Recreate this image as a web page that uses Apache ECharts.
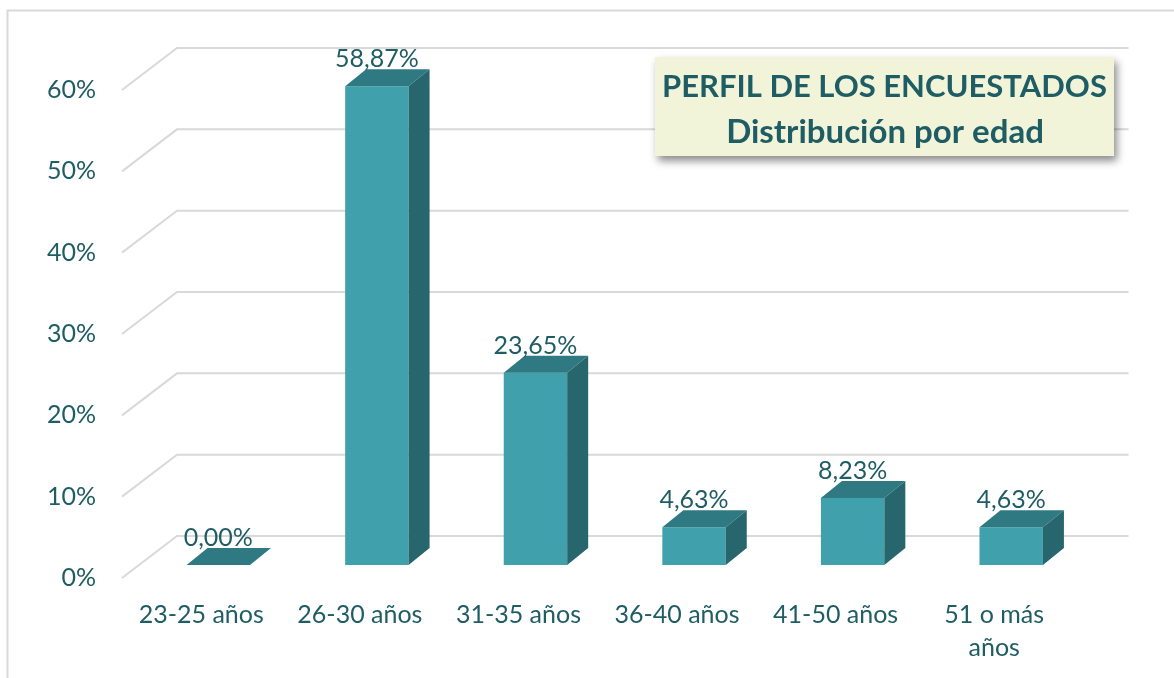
<!DOCTYPE html>
<html><head><meta charset="utf-8">
<script src="https://cdn.jsdelivr.net/npm/echarts@6/dist/echarts.min.js"></script>
<style>html,body{margin:0;padding:0;background:#fff}#c{width:1174px;height:678px}</style>
</head><body><div id="c"></div>
<script>
const categories = ['23-25 años', '26-30 años', '31-35 años', '36-40 años', '41-50 años', '51 o más\naños'];
const values = [0.00, 58.87, 23.65, 4.63, 8.23, 4.63];
const yTicks = [0, 10, 20, 30, 40, 50, 60];
const titleLines = ['PERFIL DE LOS ENCUESTADOS', 'Distribución por edad'];

const TXT = '#1f5d64';
const FONT = 'Lato';
const WALL_DX = 55, WALL_DY = -42;
const FRONT_DX = 17, FRONT_DY = -13;
const DEPTH_DX = 21, DEPTH_DY = -17;

function fmt(v) { return v.toFixed(2).replace('.', ',') + '%'; }

const chart = echarts.init(document.getElementById('c'));
chart.setOption({
  animation: false,
  grid: { left: 122, right: 100.5, top: 90, bottom: 100, containLabel: false },
  xAxis: {
    type: 'category', data: categories,
    axisLine: { show: false }, axisTick: { show: false },
    axisLabel: { color: TXT, fontFamily: FONT, fontSize: 25, margin: 20, lineHeight: 33, interval: 0 }
  },
  yAxis: {
    type: 'value', min: 0, max: 60, interval: 10,
    axisLine: { show: false }, axisTick: { show: false }, splitLine: { show: false },
    axisLabel: { color: TXT, fontFamily: FONT, fontSize: 25, margin: 26, formatter: '{value}%' }
  },
  graphic: [
    { type: 'rect', shape: { x: 7.5, y: 10.5, width: 1200, height: 700 }, style: { fill: 'none', stroke: '#d9d9d9', lineWidth: 2 }, z: -10 },
    { type: 'rect', z: 100, zlevel: 1, shape: { x: 655, y: 57, width: 459, height: 99 },
      style: { fill: '#f2f4da', shadowBlur: 8, shadowOffsetX: 3, shadowOffsetY: 5, shadowColor: 'rgba(0,0,0,0.45)' } },
    { type: 'text', z: 101, zlevel: 1, x: 884.5, y: 87, style: { text: titleLines[0], fill: TXT, font: 'bold 31px ' + FONT, textAlign: 'center', textVerticalAlign: 'middle' } },
    { type: 'text', z: 101, zlevel: 1, x: 885, y: 132, style: { text: titleLines[1], fill: TXT, font: 'bold 33px ' + FONT, textAlign: 'center', textVerticalAlign: 'middle' } }
  ],
  series: [
    {
      type: 'custom', z: 1, silent: true,
      data: yTicks.map(t => [0, t]),
      encode: { x: 0, y: 1 },
      renderItem: function (params, api) {
        const p = api.coord([0, api.value(1)]);
        const cs = params.coordSys;
        const x0 = cs.x, x1 = cs.x + cs.width, y = p[1];
        return {
          type: 'polyline',
          shape: { points: [[x0, y], [x0 + WALL_DX, y + WALL_DY], [x1 + WALL_DX, y + WALL_DY]] },
          style: { stroke: '#d9d9d9', lineWidth: 2, fill: 'none' }
        };
      }
    },
    {
      type: 'custom', z: 5, silent: true,
      data: values.map((v, i) => [i, v]),
      encode: { x: 0, y: 1 },
      renderItem: function (params, api) {
        const i = api.value(0), v = api.value(1);
        const base = api.coord([i, 0]);
        const top = api.coord([i, v]);
        const bw = api.size([1, 0])[0] * 0.40;
        const fx = base[0] - bw / 2 + FRONT_DX;
        const fy0 = base[1] + FRONT_DY;
        const fy1 = top[1] + FRONT_DY;
        return {
          type: 'group',
          children: [
            { type: 'rect', shape: { x: fx, y: fy1, width: bw, height: fy0 - fy1 }, style: { fill: '#40a0ac' } },
            { type: 'polygon', shape: { points: [[fx, fy1], [fx + bw, fy1], [fx + bw + DEPTH_DX, fy1 + DEPTH_DY], [fx + DEPTH_DX, fy1 + DEPTH_DY]] }, style: { fill: '#2f7a82' } },
            { type: 'polygon', shape: { points: [[fx + bw, fy1], [fx + bw, fy0], [fx + bw + DEPTH_DX, fy0 + DEPTH_DY], [fx + bw + DEPTH_DX, fy1 + DEPTH_DY]] }, style: { fill: '#27666d' } },
            { type: 'text', x: fx + bw / 2, y: fy1 + DEPTH_DY - 10,
              style: { text: fmt(v), fill: TXT, font: '25px ' + FONT, textAlign: 'center', textVerticalAlign: 'middle' } }
          ]
        };
      }
    }
  ]
});
</script></body></html>
